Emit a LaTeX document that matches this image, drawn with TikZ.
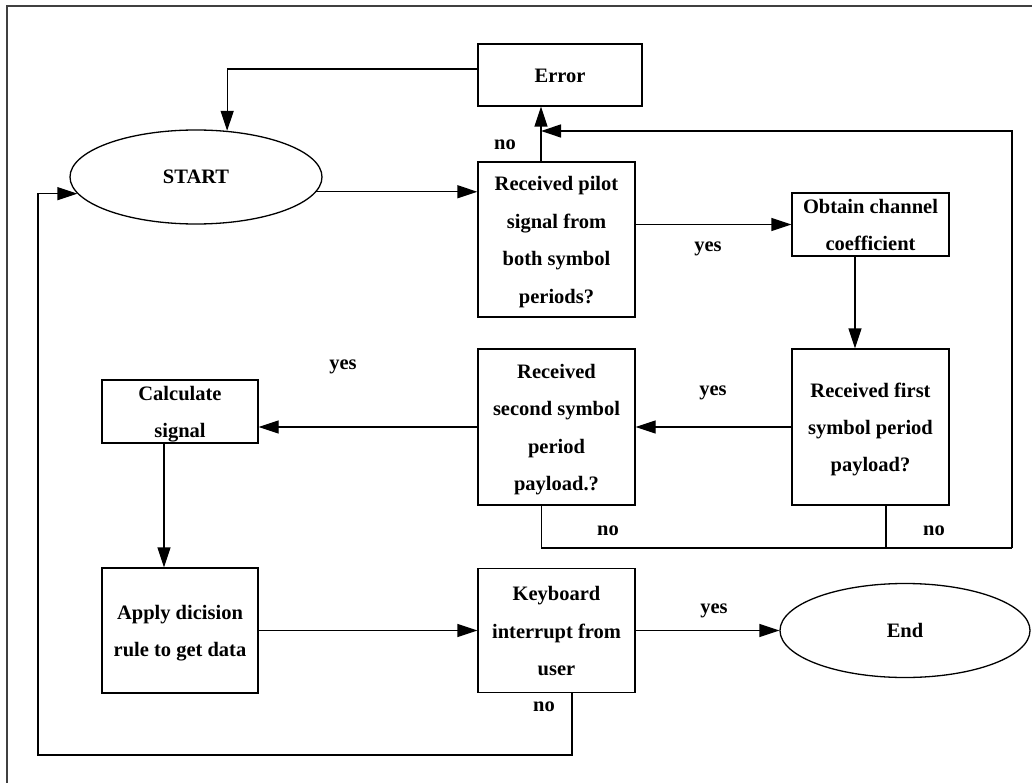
\documentclass[tikz,border=0pt]{standalone}
\usepackage{fontspec}
\setmainfont{Liberation Serif}
\usepackage{tikz}
\usetikzlibrary{arrows.meta,shapes,positioning}
\newcommand{\boxfont}{\fontsize{20.5}{24.6}\selectfont\bfseries}
\renewcommand{\arraystretch}{1.524}
\tikzstyle{arrow} = [line width=1.3pt,-{Triangle[length=20pt,width=13pt]}]
\tikzstyle{process} = [rectangle, draw, line width=1.3pt, minimum width=157pt, inner sep=0pt, font=\boxfont]
\tikzstyle{terminal} = [ellipse, draw, line width=1.3pt, minimum width=252pt, minimum height=94pt, inner sep=0pt, font=\boxfont]
\tikzstyle{answer} = [inner sep=0pt, font=\boxfont]
\tikzstyle{snug} = [text height=36.6pt, text depth=26.4pt]

\begin{document}
\begin{tikzpicture}[x=1pt, y=-1pt]
\useasboundingbox (0,0) rectangle (1032,783);
\draw[line width=1.2pt, black!75] (7,783) -- (7,6) -- (1032,6);

% Steps
\node (start) [terminal] at (196,177) {START};

\node (pilot) [process, minimum height=155pt] at (556.5,239.5) {
\begin{tabular}{c}
Received pilot\\
signal from\\
both symbol\\
periods?
\end{tabular}
};

\node (err) [process, minimum width=164pt, minimum height=62pt, above of=pilot, node distance=164.5pt, xshift=3.5pt] {
\begin{tabular}{c}
Error
\end{tabular}
};

\node (chan) [process, snug, minimum height=63pt, right of=pilot, node distance=314pt, yshift=15pt] {
\begin{tabular}{c}
Obtain channel\\
coefficient
\end{tabular}
};

\node (first) [process, minimum height=156pt, below of=chan, node distance=202.5pt] {
\begin{tabular}{c}
Received first\\
symbol period\\
payload?
\end{tabular}
};

\node (second) [process, minimum height=156pt, left of=first, node distance=314pt] {
\begin{tabular}{c}
Received\\
second symbol\\
period\\
payload.?
\end{tabular}
};

\node (calc) [process, snug, minimum width=156pt, minimum height=63pt, left of=second, node distance=376.5pt, yshift=15.5pt] {
\begin{tabular}{c}
Calculate\\
signal
\end{tabular}
};

\node (apply) [process, minimum width=156pt, minimum height=125pt, below of=calc, node distance=219pt] {
\begin{tabular}{c}
Apply dicision\\
rule to get data
\end{tabular}
};

\node (kbd) [process, minimum height=124pt, right of=apply, node distance=376.5pt] {
\begin{tabular}{c}
Keyboard\\
interrupt from\\
user
\end{tabular}
};

\node (end) [terminal, minimum width=250pt, right of=kbd, node distance=348.5pt] {End};

% Branch labels
\node (no1) [answer] at (505,145) {no};
\node (yes1) [answer] at (708,249) {yes};
\node (yes2) [answer] at (713,393) {yes};
\node (yes3) [answer] at (343,367) {yes};
\node (no2) [answer] at (608,531) {no};
\node (no3) [answer] at (934,531) {no};
\node (yes4) [answer] at (714,611) {yes};
\node (no4) [answer] at (544,707) {no};

\coordinate (nojoin) at (1012,548);
\coordinate (back) at (541,131);
\coordinate (loopc) at (38,755);

% Arrows
\draw[arrow] ([yshift=6pt]err.west) -| (start.56);
\draw[arrow] (start.353) -- (start.353 -| pilot.west);
\draw[arrow] ([xshift=-15.5pt]pilot.north) -- ([xshift=-15.5pt]pilot.north |- err.south);
\draw[arrow] (chan.west -| pilot.east) -- (chan.west);
\draw[arrow] ([xshift=-15.5pt]chan.south) -- ([xshift=-15.5pt]first.north);
\draw[arrow] (first.west) -- (second.east);
\draw[arrow] (second.west) -- (second.west -| calc.east);
\draw[arrow] ([xshift=-16pt]calc.south) -- ([xshift=-16pt]apply.north);
\draw[arrow] (apply.east) -- (apply.east -| kbd.west);
\draw[arrow] (kbd.east) -- (end.west);

% "no" paths back to the top
\draw[line width=1.3pt] ([xshift=-15pt]second.south) |- (nojoin);
\draw[line width=1.3pt] ([xshift=15.5pt]first.south) -- ([xshift=15.5pt]first.south |- nojoin);
\draw[arrow] (nojoin) |- (back);
\draw[arrow] ([xshift=15.5pt]kbd.south) |- (loopc) |- (start.188);
\end{tikzpicture}
\end{document}
